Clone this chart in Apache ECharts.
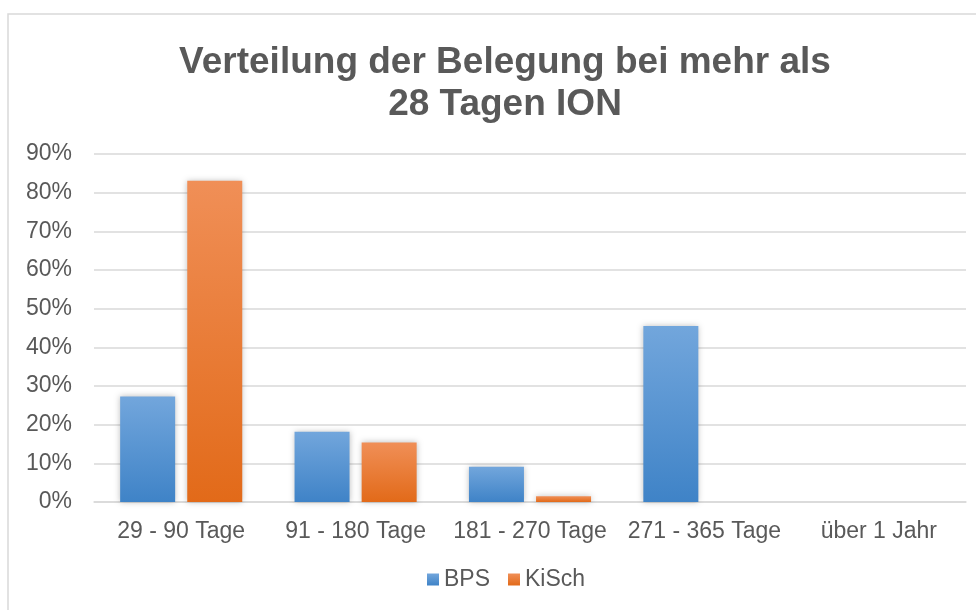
<!DOCTYPE html>
<html>
<head>
<meta charset="utf-8">
<script src="https://cdn.jsdelivr.net/npm/echarts@6/dist/echarts.min.js"></script>
<style>
  html, body { margin: 0; padding: 0; background: #fff; }
  #chart { width: 976px; height: 610px; }
</style>
</head>
<body>
<div id="chart"></div>
<script>
const categories = ["29 - 90 Tage", "91 - 180 Tage", "181 - 270 Tage", "271 - 365 Tage", "über 1 Jahr"];
const bps = [27.3, 18.2, 9.1, 45.5, 0];
const kisch = [83.1, 15.4, 1.5, 0, 0];

const textColor = "#595959";
const font = "Liberation Sans, Arial, sans-serif";

function grad(top, bottom) {
  return new echarts.graphic.LinearGradient(0, 0, 0, 1, [
    { offset: 0, color: top },
    { offset: 1, color: bottom },
  ]);
}

const chart = echarts.init(document.getElementById("chart"));
chart.setOption({
  animation: false,
  textStyle: { fontFamily: font },
  graphic: [
    {
      type: "rect",
      shape: { x: 8, y: 14, width: 1000, height: 700 },
      style: { fill: "none", stroke: "#d9d9d9", lineWidth: 1.5 },
      silent: true,
    },
  ],
  title: {
    text: "Verteilung der Belegung bei mehr als\n28 Tagen ION",
    left: 500,
    textAlign: "center",
    top: 37,
    textStyle: {
      color: textColor,
      fontSize: 37,
      fontWeight: "bold",
      fontFamily: font,
      lineHeight: 42,
    },
  },
  legend: {
    bottom: 14,
    left: 422,
    itemWidth: 12,
    itemHeight: 12,
    itemGap: 18,
    icon: "rect",
    textStyle: { color: textColor, fontSize: 23, fontFamily: font },
    data: ["BPS", "KiSch"],
  },
  grid: { left: 94, right: 10, top: 154, bottom: 108 },
  xAxis: {
    type: "category",
    data: categories,
    axisLine: { lineStyle: { color: "#d9d9d9", width: 1.5 } },
    axisTick: { show: false },
    axisLabel: {
      color: textColor,
      fontSize: 23,
      margin: 18,
      fontFamily: font,
      interval: 0,
      hideOverlap: false,
    },
  },
  yAxis: {
    type: "value",
    min: 0,
    max: 90,
    interval: 10,
    axisLine: { show: false },
    axisTick: { show: false },
    splitLine: { lineStyle: { color: "#d9d9d9", width: 1.5 } },
    axisLabel: {
      color: textColor,
      fontSize: 23,
      margin: 22,
      fontFamily: font,
      formatter: "{value}%",
    },
  },
  series: [
    {
      name: "BPS",
      type: "bar",
      data: bps,
      barWidth: 55,
      barGap: "22%",
      itemStyle: {
        color: grad("#72a6dc", "#3f83c7"),
        shadowColor: "rgba(0,0,0,0.25)",
        shadowBlur: 6,
      },
    },
    {
      name: "KiSch",
      type: "bar",
      data: kisch,
      barWidth: 55,
      barGap: "22%",
      itemStyle: {
        color: grad("#f08f57", "#e26a19"),
        shadowColor: "rgba(0,0,0,0.25)",
        shadowBlur: 6,
      },
    },
  ],
});
</script>
</body>
</html>
